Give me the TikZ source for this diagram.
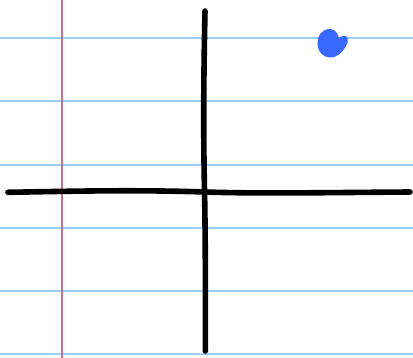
\documentclass[tikz,border=0pt]{standalone}
\begin{document}
\begin{tikzpicture}[x=1bp,y=-1bp,
  ruled/.style={draw={rgb,255:red,160;green,204;blue,250},line width=2bp},
  marginline/.style={draw={rgb,255:red,200;green,112;blue,144},line width=1.8bp},
  axis/.style={draw=black,line width=5.6bp,line cap=round,line join=round},
  dotfill/.style={fill={rgb,255:red,56;green,104;blue,255}}]
\useasboundingbox (0,0) rectangle (413,358);
\fill[white] (0,0) rectangle (413,358);
\foreach \yy in {38,101.2,164.5,227.8,291.1,354.4}
  \draw[ruled] (0,\yy) -- (413,\yy);
\draw[marginline] (61.7,0) -- (61.7,358);
% vertical axis
\coordinate (vt) at (205,11);
\coordinate (vb) at (205.3,351);
\draw[axis] (vt) .. controls (204,60) and (203,120) .. (204.5,190)
  .. controls (205.5,240) and (205.5,300) .. (vb);
% horizontal axis
\coordinate (hl) at (8,192.3);
\coordinate (hr) at (410,192);
\draw[axis] (hl) .. controls (60,191.5) and (130,189.5) .. (205,192)
  .. controls (260,193.8) and (330,192.5) .. (hr);
% blue dot
\fill[dotfill] (330,29) .. controls (321.5,29) and (317.5,36) .. (317.5,43)
  .. controls (317.5,51.5) and (323,57.5) .. (330,57.5)
  .. controls (337.5,57.5) and (342.5,52) .. (345.5,47)
  .. controls (348.5,43) and (348.5,37) .. (345.5,36)
  .. controls (342,35) and (340,38) .. (339,38)
  .. controls (338,34) and (335,29) .. (330,29) -- cycle;
\end{tikzpicture}
\end{document}
